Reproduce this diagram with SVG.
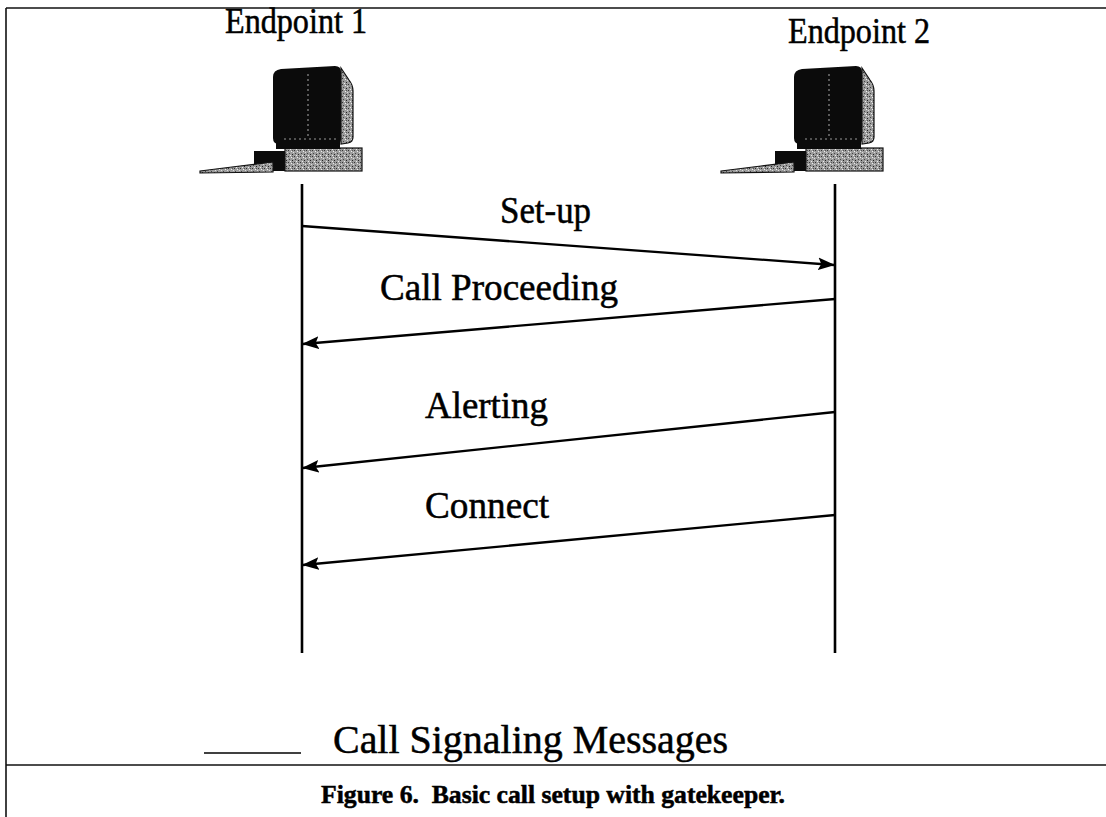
<svg xmlns="http://www.w3.org/2000/svg" width="1106" height="817" viewBox="0 0 1106 817">
  <style>
    .lbl { font-family: 'Liberation Serif', 'Times New Roman', serif; fill: #000; stroke: #000; stroke-width: 0.5; }
    .life { stroke: #000; stroke-width: 2.6; fill: none; }
    .msg { stroke: #000; stroke-width: 2.3; fill: none; marker-end: url(#head); }
    .frame { stroke: #111; stroke-width: 1.6; fill: none; }
    .dark { fill: #0b0b0b; }
    .grain { fill: url(#speckle); stroke: #111; stroke-width: 1.2; }
  </style>
  <defs>
    <marker id="head" viewBox="0 0 16 12" refX="15" refY="6" markerWidth="17" markerHeight="13" markerUnits="userSpaceOnUse" orient="auto">
      <path d="M0,0 L16,6 L0,12 L3,6 Z" fill="#000"/>
    </marker>
    <pattern id="speckle" width="6" height="6" patternUnits="userSpaceOnUse">
      <rect width="6" height="6" fill="#9c9c9c"/>
      <rect x="0" y="0" width="1" height="1" fill="#333"/>
      <rect x="3" y="1" width="1" height="1" fill="#eee"/>
      <rect x="1" y="3" width="1" height="1" fill="#444"/>
      <rect x="4" y="4" width="1" height="1" fill="#222"/>
      <rect x="5" y="2" width="1" height="1" fill="#ddd"/>
      <rect x="2" y="5" width="1" height="1" fill="#eee"/>
      <rect x="4" y="0" width="1" height="1" fill="#555"/>
    </pattern>
    <!-- desktop computer icon, drawn at the first endpoint's position -->
    <g id="computer">
      <rect x="254" y="151" width="33" height="20" class="dark"/>
      <rect x="285" y="148" width="77" height="23" class="grain"/>
      <rect x="276" y="142" width="64" height="7" class="dark"/>
      <path d="M273,77 Q273,70 281,69 L335,66 Q341,66 341,72 L341,139 Q341,144 336,144 L279,144 Q273,144 273,138 Z" class="dark"/>
      <path d="M341,68 L349,80 Q353,85 353,91 L353,137 Q353,142 348,143 L341,144 Z" class="grain"/>
      <line x1="308" y1="74" x2="308" y2="137" stroke="#aaa" stroke-width="1" stroke-dasharray="2 3"/>
      <line x1="284" y1="139" x2="337" y2="139" stroke="#999" stroke-width="1" stroke-dasharray="2 3"/>
      <path d="M200,171 L240,166 L273,162 L273,172 L200,173 Z" class="grain"/>
    </g>
  </defs>

  <!-- page frame -->
  <g id="frame">
    <line x1="6" y1="8" x2="1106" y2="8" class="frame"/>
    <line x1="6" y1="8" x2="6" y2="817" class="frame"/>
    <line x1="6" y1="765" x2="1106" y2="765" class="frame"/>
  </g>

  <g id="endpoint1">
    <text class="lbl" font-family="'Liberation Serif', serif" x="225" y="33" font-size="35" textLength="142" lengthAdjust="spacingAndGlyphs">Endpoint 1</text>
    <use href="#computer"/>
    <line x1="302" y1="184" x2="302" y2="653" class="life"/>
  </g>

  <g id="endpoint2">
    <text class="lbl" font-family="'Liberation Serif', serif" x="788" y="43" font-size="35" textLength="142" lengthAdjust="spacingAndGlyphs">Endpoint 2</text>
    <use href="#computer" transform="translate(521,0)"/>
    <line x1="835" y1="184" x2="835" y2="653" class="life"/>
  </g>

  <g id="connectors">
    <line x1="302" y1="226" x2="834" y2="265" class="msg"/>
    <line x1="835" y1="299" x2="303" y2="344" class="msg"/>
    <line x1="835" y1="412" x2="303" y2="468" class="msg"/>
    <line x1="835" y1="515" x2="303" y2="565" class="msg"/>
  </g>

  <g id="labels" font-family="'Liberation Serif', serif">
    <text class="lbl" x="500" y="223" font-size="37" textLength="91" lengthAdjust="spacingAndGlyphs">Set-up</text>
    <text class="lbl" x="380" y="300" font-size="37" textLength="238" lengthAdjust="spacingAndGlyphs">Call Proceeding</text>
    <text class="lbl" x="425" y="418" font-size="37" textLength="123" lengthAdjust="spacingAndGlyphs">Alerting</text>
    <text class="lbl" x="425" y="518" font-size="37" textLength="124" lengthAdjust="spacingAndGlyphs">Connect</text>
  </g>

  <g id="legend">
    <line x1="204" y1="753" x2="301" y2="753" stroke="#000" stroke-width="1.4"/>
    <text class="lbl" font-family="'Liberation Serif', serif" x="333" y="753" font-size="40" textLength="395" lengthAdjust="spacingAndGlyphs">Call Signaling Messages</text>
  </g>

  <text id="caption" class="lbl" font-family="'Liberation Serif', serif" x="553" y="803" font-size="25" font-weight="bold" stroke-width="0.2" text-anchor="middle" textLength="464" lengthAdjust="spacingAndGlyphs" xml:space="preserve">Figure 6.  Basic call setup with gatekeeper.</text>
</svg>
